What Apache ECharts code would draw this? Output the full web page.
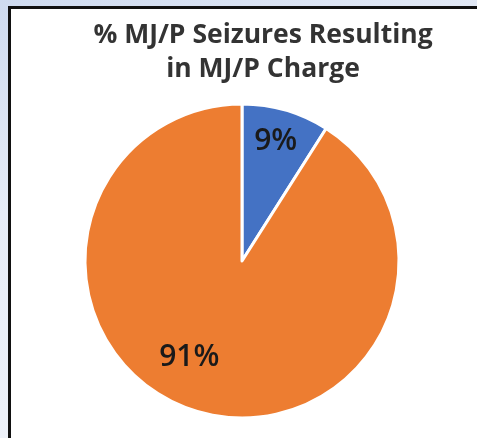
<!DOCTYPE html>
<html>
<head>
<meta charset="utf-8">
<script src="https://cdn.jsdelivr.net/npm/echarts@6/dist/echarts.min.js"></script>
<style>
  html, body { margin: 0; padding: 0; overflow: hidden; }
  body { background: linear-gradient(160deg, #cfdbf0 0%, #e6ecf7 35%, #f4f6fb 100%); height: 100vh; position: relative; }
  #frame { position: absolute; left: 8px; top: 6px; width: 100%; height: 100%;
           border-left: 3px solid #111; border-top: 3px solid #111; background: #fff; }
  #main { position: absolute; left: 0; top: 0; width: 477px; height: 438px; }
</style>
</head>
<body>
<div id="frame"></div>
<div id="main"></div>
<script>
// share of MJ/P seizures
const categories = ['Charge', 'No charge'];
const values = [9, 91];
const colors = ['#4472C4', '#ED7D31'];

let dom = document.getElementById('main');
let chart = echarts.init(dom);

// nudge inside labels to where the original puts them
const labelShift = [[11, -41], [-30, 18]];

let option = {
    title: {
        text: '% MJ/P Seizures Resulting\nin MJ/P Charge',
        left: 258,
        top: 13,
        textAlign: 'center',
        textStyle: {
            fontFamily: 'Open Sans',
            fontWeight: 'bold',
            fontSize: 26.5,
            lineHeight: 34,
            color: '#333'
        }
    },
    series: [{
        type: 'pie',
        center: [242, 261],
        radius: 157,
        startAngle: 90,
        clockwise: true,
        animation: false,
        itemStyle: {
            borderColor: '#fff',
            borderWidth: 3
        },
        label: {
            show: true,
            position: 'inside',
            formatter: function (params) {
                return params.value + '%';
            },
            fontFamily: 'Open Sans',
            fontWeight: 600,
            fontSize: 30,
            color: '#1a1a1a'
        },
        labelLine: { show: false },
        labelLayout: function (params) {
            let s = labelShift[params.dataIndex];
            return {
                x: params.labelRect.x + params.labelRect.width / 2 + s[0],
                y: params.labelRect.y + params.labelRect.height / 2 + s[1],
                align: 'center',
                verticalAlign: 'middle'
            };
        },
        data: categories.map(function (c, i) {
            return { name: c, value: values[i], itemStyle: { color: colors[i] } };
        })
    }]
};

chart.setOption(option);
window.addEventListener('resize', function () {
    chart.resize();
});
</script>
</body>
</html>
